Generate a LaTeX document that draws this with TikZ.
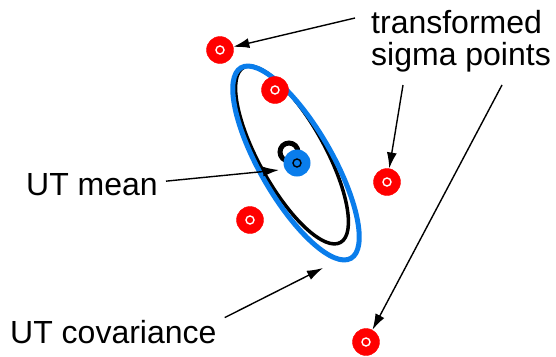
\documentclass[tikz,border=0pt]{standalone}
\usepackage{fontspec}
\setmainfont{Liberation Sans}
\usetikzlibrary{arrows.meta}
\definecolor{utblue}{RGB}{10,125,235}
\tikzset{
  sigma/.style={circle, fill=red, draw=red, minimum size=27pt, inner sep=0pt},
  lbl/.style={inner sep=0pt, font=\fontsize{32}{32}\selectfont},
  pointer/.style={line width=1.4pt, -{Latex[length=16pt,width=10pt]}},
}
\begin{document}
\begin{tikzpicture}[x=1pt, y=-1pt]
\useasboundingbox (0,0) rectangle (556,356);

% covariances
\draw[line width=3.5pt, rotate around={-61:(292,155)}] (292,155) ellipse [x radius=100, y radius=33];
\draw[utblue, line width=5pt, rotate around={-60:(296,163)}] (296,163) ellipse [x radius=110, y radius=36];

% means
\node[circle, draw, line width=5pt, minimum size=18pt, inner sep=0pt] (bmean) at (289,152) {};
\node[circle, fill=utblue, minimum size=27pt, inner sep=0pt] (mean) at (297,163) {};
\draw[line width=1.4pt] (mean) circle (4);

% sigma points
\foreach \n/\p in {a/{(220,50)}, b/{(275,90)}, c/{(387,182)}, d/{(250,220)}, e/{(366,342)}} {
  \node[sigma] (\n) at \p {};
  \draw[white, line width=1.4pt] (\n) circle (4);
}

% labels
\node[lbl, anchor=base west, align=left] (sig) at (371,65) {transformed\\sigma points};
\node[lbl, anchor=base west] (ut) at (26,195) {UT mean};
\node[lbl, anchor=base west] (cov) at (10,343) {UT covariance};
\coordinate (sigtip) at (355,18);
\coordinate (covtip) at (323,268);

\draw[pointer] (sigtip) -- (a);
\draw[pointer] (403,85) -- (c);
\draw[pointer] (502,85) -- (e);
\draw[pointer] (ut.east) ++(8,-3) -- (279,170);
\draw[pointer] (cov.north east) ++(8,-2) -- (covtip);
\end{tikzpicture}
\end{document}
